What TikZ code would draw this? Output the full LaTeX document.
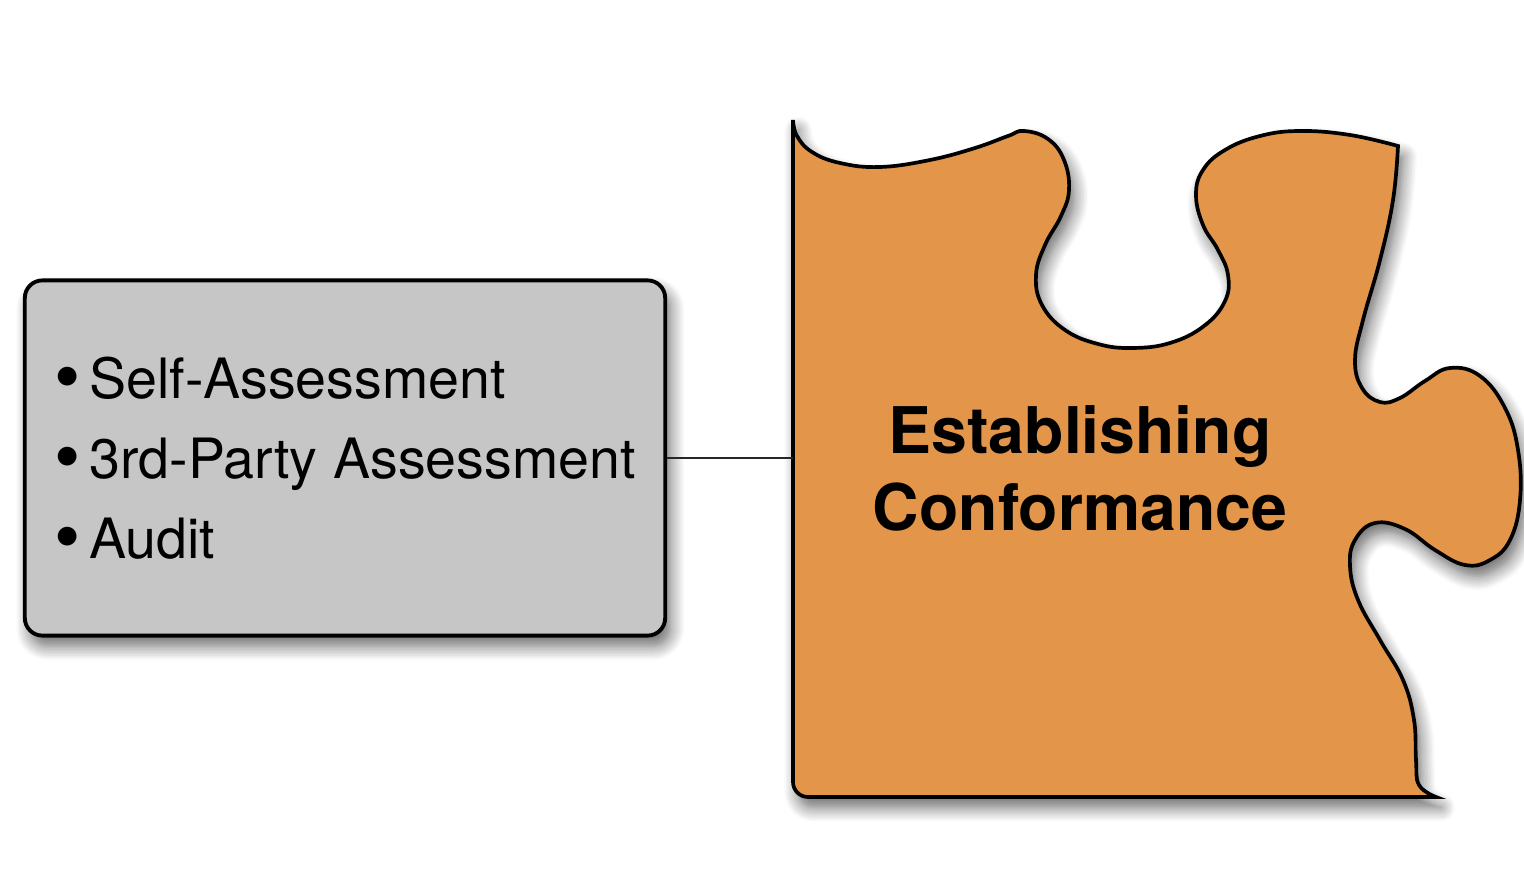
\documentclass[tikz,border=0pt]{standalone}
\usepackage{fontspec}
\setmainfont{TeX Gyre Heros}
\usetikzlibrary{shadows.blur}
\definecolor{piecefill}{HTML}{E3964A}
\definecolor{boxgray}{HTML}{C6C6C6}
\newcommand{\bigdot}{\raisebox{-0.12ex}{\scalebox{1.35}{\textbullet}}\hspace{2.5pt}}

\begin{document}
\begin{tikzpicture}[x=0.01cm, y=-0.01cm,
        softshadow/.style={blur shadow={shadow xshift=1.5pt, shadow yshift=-3pt, shadow blur radius=4pt, shadow blur steps=10, shadow opacity=60}},
        listbox/.style={draw=black, line width=1.1pt, fill=boxgray, rounded corners=5pt,
            minimum width=6.4cm, minimum height=3.55cm, align=left, softshadow,
            font=\fontsize{15.8}{22.8}\selectfont},
        piece/.style={draw=black, line width=1.05pt, fill=piecefill, softshadow},
        piecelabel/.style={align=center, font=\bfseries\fontsize{18.3}{21.9}\selectfont},
        link/.style={black!85, line width=0.7pt}]
    \useasboundingbox (0,0) rectangle (1524,880);

    % puzzle piece
    \draw[piece] plot[smooth, tension=0.7] coordinates {(793,120) (797,136) (812,152) (840,163) (880,167) (930,160) (975,148) (1008,136) (1024,131) (1048,139) (1064,160) (1069,190) (1061,216) (1045,245) (1036,275) (1042,305) (1065,330) (1098,344) (1132,348) (1170,343) (1204,326) (1225,301) (1228,275) (1218,250) (1203,225) (1196,195) (1203,170) (1225,150) (1260,136) (1300,131) (1350,135) (1398,146)}
        -- plot[smooth, tension=0.7] coordinates {(1398,146) (1393,200) (1380,260) (1363,320) (1355,360) (1362,388) (1380,402) (1400,398) (1425,381) (1450,368) (1480,376) (1505,408) (1518,450) (1520,500) (1510,540) (1490,560) (1465,565) (1435,550) (1405,529) (1375,523) (1355,540) (1350,566) (1358,600) (1380,640) (1403,680) (1414,720) (1416,760) (1419,785) (1436,797)}
        -- (808,797) to[out=180, in=-90] (793,782) -- cycle;
    \node[piecelabel] (topic) at (1080,468) {Establishing\\Conformance};
    \coordinate (socket) at (793,458);

    % list of methods
    \node[listbox, text depth=0pt] (checks) at (345,458) {\bigdot Self-Assessment\\ \bigdot 3rd-Party Assessment\\ \bigdot Audit};

    \draw[link] (checks) -- (socket);
\end{tikzpicture}
\end{document}
